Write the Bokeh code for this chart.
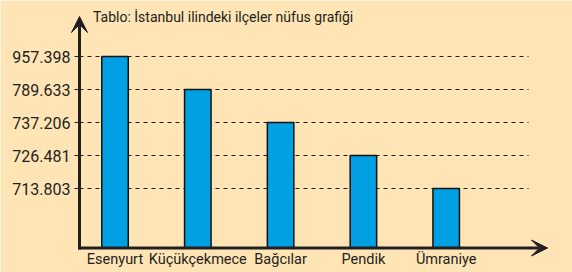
from bokeh.plotting import figure
from bokeh.models import FixedTicker, Arrow, VeeHead, Label, Range1d, ColumnDataSource
from bokeh.embed import file_html
from bokeh.resources import INLINE

# ---- data ----
districts = ["Esenyurt", "Küçükçekmece", "Bağcılar", "Pendik", "Ümraniye"]
population = [957398, 789633, 737206, 726481, 713803]
title_text = "Tablo: İstanbul ilindeki ilçeler nüfus grafiği"


def tr_fmt(v):
    return f"{v:,}".replace(",", ".")


# the reference chart places each value on its own evenly spaced level
levels = sorted(population)
level_pos = {v: i + 1 for i, v in enumerate(levels)}
xs = list(range(len(districts)))
tops = [level_pos[v] for v in population]
tick_labels = {level_pos[v]: tr_fmt(v) for v in population}
grid_y = sorted(tick_labels.keys())

# ---- layout (frame covers the whole canvas; axes sit at fixed locations) ----
DARK = "#231F20"
BG = "#FFE4B5"
BAR = "#00A0E3"
W, H = 572, 272
kx = 82.8
ky = 33.0
x0 = -114.5 / kx
x1 = x0 + W / kx
y1 = 1 + 188 / ky
y0 = 1 + (188 - H) / ky


def dx(px):
    return x0 + px / kx


def dy(py):
    return 1 + (188 - py) / ky


AX_X = 79      # px of the vertical axis
AX_Y = 247.5   # px of the horizontal axis

p = figure(width=W, height=H, x_range=Range1d(x0, x1), y_range=Range1d(y0, y1),
           output_backend="svg", toolbar_location=None, title=None, min_border=0)
p.background_fill_color = BG
p.border_fill_color = BG
p.outline_line_color = None
p.xgrid.visible = False
p.ygrid.visible = False

# dashed level lines
p.segment(x0=[dx(AX_X)] * len(grid_y), x1=[dx(528)] * len(grid_y),
          y0=grid_y, y1=grid_y, line_color=DARK, line_width=1, line_dash="4 4")

src = ColumnDataSource(dict(x=xs, top=tops, name=districts, pop=population))
p.vbar(x="x", top="top", bottom=dy(AX_Y), width=0.32, source=src,
       fill_color=BAR, line_color="#111111", line_width=1.5)

# x axis
p.xaxis.fixed_location = dy(AX_Y)
p.xaxis.ticker = FixedTicker(ticks=xs)
p.xaxis.major_label_overrides = {i: d for i, d in enumerate(districts)}
p.xaxis.axis_line_color = None
p.xaxis.major_tick_line_color = None
p.xaxis.major_tick_out = 0
p.xaxis.major_tick_in = 0
p.xaxis.minor_tick_line_color = None
p.xaxis.major_label_standoff = 3
p.xaxis.major_label_text_font = "Roboto"
p.xaxis.major_label_text_font_size = "14.5px"
p.xaxis.major_label_text_color = DARK

# y axis
p.yaxis.fixed_location = dx(AX_X)
p.yaxis.ticker = FixedTicker(ticks=grid_y)
p.yaxis.major_label_overrides = tick_labels
p.yaxis.axis_line_color = None
p.yaxis.major_tick_out = 5
p.yaxis.major_tick_in = 0
p.yaxis.major_tick_line_color = DARK
p.yaxis.minor_tick_line_color = None
p.yaxis.major_label_standoff = 4
p.yaxis.major_label_text_font = "Roboto"
p.yaxis.major_label_text_font_size = "16px"
p.yaxis.major_label_text_color = DARK

# axis arrows
p.add_layout(Arrow(end=VeeHead(size=16, fill_color=DARK, line_color=DARK),
                   x_start=dx(AX_X), y_start=dy(249), x_end=dx(AX_X), y_end=dy(16),
                   line_width=3, line_color=DARK))
p.add_layout(Arrow(end=VeeHead(size=16, fill_color=DARK, line_color=DARK),
                   x_start=dx(77.5), y_start=dy(AX_Y), x_end=dx(547), y_end=dy(AX_Y),
                   line_width=3, line_color=DARK))

p.add_layout(Label(x=dx(92.5), y=dy(16), text=title_text, text_font="Roboto",
                   text_font_size="14px", text_color=DARK,
                   text_align="left", text_baseline="alphabetic"))

open("out.html", "w").write(file_html(p, INLINE))
